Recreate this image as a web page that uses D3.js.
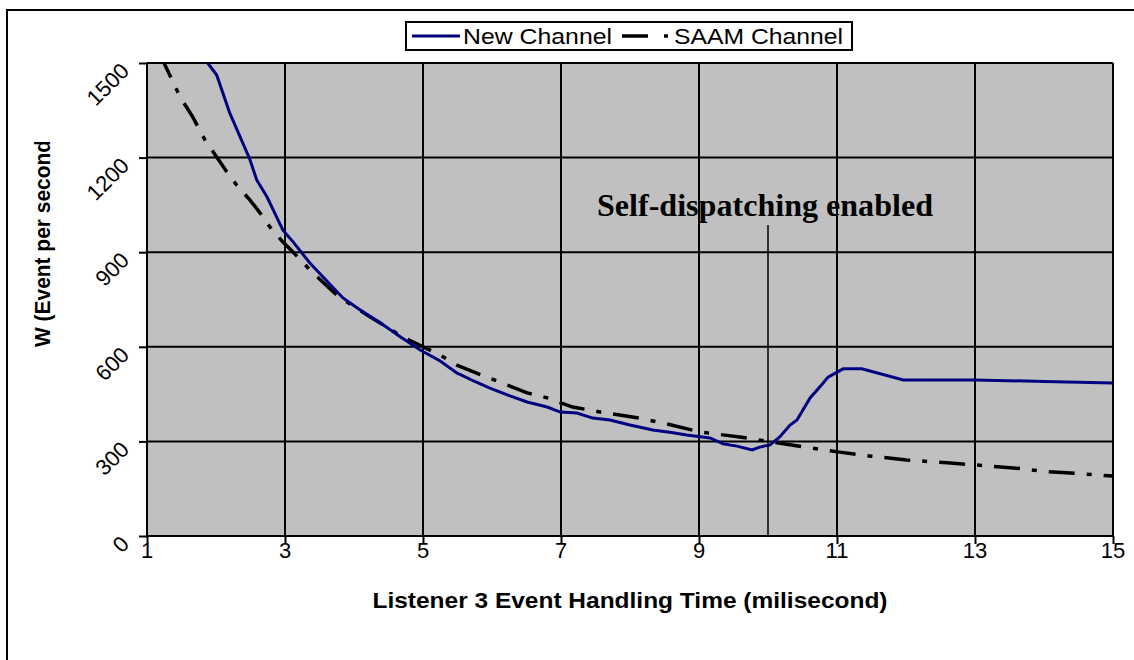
<!DOCTYPE html>
<html>
<head>
<meta charset="utf-8">
<script src="https://cdn.jsdelivr.net/npm/d3@7"></script>
<style>
  body { margin: 0; background: #fff; }
  svg { display: block; }
</style>
</head>
<body>
<div id="corpo"></div>
<script>
// values
var seriesNames = ["New Channel", "SAAM Channel"];
var xTicks = [1, 3, 5, 7, 9, 11, 13, 15];
var yTicks = [0, 300, 600, 900, 1200, 1500];

var newX = [1.8, 1.88, 2.01, 2.2, 2.49, 2.59, 2.74, 2.81, 2.97, 3.12, 3.36, 3.6, 3.84, 4.1, 4.38, 4.67, 4.96, 5.25, 5.49, 5.75, 5.97, 6.25, 6.51, 6.8, 6.99, 7.23, 7.46, 7.71, 8.0, 8.33, 8.6, 8.82, 9.16, 9.35, 9.55, 9.77, 9.88, 10.03, 10.17, 10.32, 10.42, 10.61, 10.8, 10.87, 11.09, 11.36, 11.96, 13.0, 14.0, 15];
var newY = [1580, 1500, 1462, 1341, 1195, 1129, 1075, 1043, 970, 932, 866, 810, 755, 715, 676, 632, 590, 555, 517, 490, 469, 445, 425, 409, 393, 390, 374, 368, 352, 336, 328, 320, 311, 292, 285, 273, 282, 289, 314, 352, 368, 438, 485, 504, 530, 530, 495, 495, 490, 485];

var saamX = [1.2, 1.26, 1.48, 1.66, 1.84, 2.0, 2.16, 2.3, 2.49, 2.64, 2.78, 2.97, 3.12, 3.36, 3.55, 3.75, 4.0, 4.23, 4.48, 4.71, 5.0, 5.25, 5.49, 5.85, 6.22, 6.51, 6.8, 7.17, 7.6, 8.14, 8.6, 9.01, 9.59, 10.07, 10.5, 11.04, 11.5, 12.01, 12.6, 13.2, 13.6, 14.0, 14.5, 15];
var saamY = [1530, 1494, 1392, 1330, 1256, 1205, 1154, 1113, 1066, 1024, 980, 932, 900, 844, 805, 764, 728, 695, 662, 631, 600, 574, 542, 510, 479, 454, 438, 409, 392, 374, 352, 330, 314, 298, 283, 266, 253, 241, 232, 222, 215, 205, 198, 190];

var markX = 10;
var markLabel = "Self-dispatching enabled";

var width = 1134, height = 660;
var pLeft = 147, pRight = 1113, pTop = 63, pBottom = 536;

var svg = d3.select("#corpo").append("svg")
    .attr("width", width)
    .attr("height", height);

// outer chart frame (only top/left edges fall inside the picture)
svg.append("rect")
    .attr("x", 7).attr("y", 10)
    .attr("width", 1140).attr("height", 700)
    .attr("fill", "#fff")
    .attr("stroke", "#000")
    .attr("stroke-width", 2);

var x = d3.scaleLinear().domain([1, 15]).range([pLeft, pRight]);
var y = d3.scaleLinear().domain([0, 1500]).range([pBottom, pTop]);

// plot area
svg.append("rect")
    .attr("x", pLeft).attr("y", pTop)
    .attr("width", pRight - pLeft).attr("height", pBottom - pTop)
    .attr("fill", "#c0c0c0");

svg.append("clipPath").attr("id", "plotclip")
  .append("rect")
    .attr("x", pLeft).attr("y", pTop)
    .attr("width", pRight - pLeft).attr("height", pBottom - pTop);

// grid
svg.append("g").selectAll("line")
    .data(xTicks)
    .enter().append("line")
    .attr("x1", function(d) { return x(d); })
    .attr("x2", function(d) { return x(d); })
    .attr("y1", pTop).attr("y2", pBottom)
    .attr("stroke", "#000").attr("stroke-width", 2);

svg.append("g").selectAll("line")
    .data(yTicks)
    .enter().append("line")
    .attr("x1", pLeft).attr("x2", pRight)
    .attr("y1", function(d) { return y(d); })
    .attr("y2", function(d) { return y(d); })
    .attr("stroke", "#000").attr("stroke-width", 2);

// axes
var xAxis = d3.axisBottom(x).tickValues(xTicks).tickSize(8).tickFormat("");
svg.append("g")
    .attr("transform", "translate(0," + pBottom + ")")
    .call(xAxis)
    .call(function(g) {
        g.selectAll("line, path").attr("stroke", "#000").attr("stroke-width", 2);
        g.select(".domain").attr("d", "M" + pLeft + ",0H" + pRight);
    });

var yAxis = d3.axisLeft(y).tickValues(yTicks).tickSize(8).tickFormat("");
svg.append("g")
    .attr("transform", "translate(" + pLeft + ",0)")
    .call(yAxis)
    .call(function(g) {
        g.selectAll("line, path").attr("stroke", "#000").attr("stroke-width", 2);
        g.select(".domain").attr("d", "M0," + pTop + "V" + pBottom);
    });

// tick labels
svg.append("g").selectAll("text")
    .data(xTicks)
    .enter().append("text")
    .attr("x", function(d) { return x(d); })
    .attr("y", 558)
    .attr("text-anchor", "middle")
    .style("font-family", "Arial, 'Liberation Sans', sans-serif")
    .style("font-size", "22px")
    .text(function(d) { return d; });

svg.append("g").selectAll("text")
    .data(yTicks)
    .enter().append("text")
    .attr("transform", function(d) { return "translate(125," + (y(d) + 4) + ") rotate(-45)"; })
    .attr("text-anchor", "end")
    .attr("dy", "0.35em")
    .style("font-family", "Arial, 'Liberation Sans', sans-serif")
    .style("font-size", "22px")
    .text(function(d) { return d; });

// axis titles
svg.append("text")
    .attr("x", 630).attr("y", 608)
    .attr("text-anchor", "middle")
    .attr("textLength", 515)
    .attr("lengthAdjust", "spacingAndGlyphs")
    .style("font-family", "Arial, 'Liberation Sans', sans-serif")
    .style("font-weight", "bold")
    .style("font-size", "22px")
    .text("Listener 3 Event Handling Time (milisecond)");

svg.append("clipPath").attr("id", "ytitleclip")
  .append("rect")
    .attr("x", 0).attr("y", 142)
    .attr("width", 100).attr("height", 300);

svg.append("g").attr("clip-path", "url(#ytitleclip)")
  .append("text")
    .attr("transform", "translate(50,347) rotate(-90)")
    .attr("textLength", 214)
    .attr("lengthAdjust", "spacingAndGlyphs")
    .style("font-family", "Arial, 'Liberation Sans', sans-serif")
    .style("font-weight", "bold")
    .style("font-size", "22px")
    .text("W (Event per second)");

// series
var line = d3.line()
    .x(function(d) { return x(d[0]); })
    .y(function(d) { return y(d[1]); });

var plot = svg.append("g").attr("clip-path", "url(#plotclip)");

plot.append("path")
    .datum(d3.zip(saamX, saamY))
    .attr("d", line)
    .attr("fill", "none")
    .attr("stroke", "#000")
    .attr("stroke-width", 3.5)
    .attr("stroke-dasharray", "26,12,5,12");

plot.append("path")
    .datum(d3.zip(newX, newY))
    .attr("d", line)
    .attr("fill", "none")
    .attr("stroke", "#000080")
    .attr("stroke-width", 3);

// annotation
svg.append("line")
    .attr("x1", x(markX)).attr("x2", x(markX))
    .attr("y1", 225).attr("y2", pBottom)
    .attr("stroke", "#000").attr("stroke-width", 1.5);

svg.append("text")
    .attr("x", 765).attr("y", 216)
    .attr("text-anchor", "middle")
    .attr("textLength", 336)
    .attr("lengthAdjust", "spacingAndGlyphs")
    .style("font-family", "'Times New Roman', 'Liberation Serif', serif")
    .style("font-weight", "bold")
    .style("font-size", "31px")
    .text(markLabel);

// legend
var leg = svg.append("g");
leg.append("rect")
    .attr("x", 406).attr("y", 22)
    .attr("width", 446).attr("height", 28)
    .attr("fill", "#fff")
    .attr("stroke", "#000")
    .attr("stroke-width", 2);

leg.append("line")
    .attr("x1", 412).attr("x2", 460)
    .attr("y1", 36).attr("y2", 36)
    .attr("stroke", "#000080").attr("stroke-width", 3);
leg.append("text")
    .attr("x", 463).attr("y", 44)
    .attr("textLength", 149)
    .attr("lengthAdjust", "spacingAndGlyphs")
    .style("font-family", "Arial, 'Liberation Sans', sans-serif")
    .style("font-size", "22px")
    .text(seriesNames[0]);

leg.append("line")
    .attr("x1", 622).attr("x2", 670)
    .attr("y1", 36).attr("y2", 36)
    .attr("stroke", "#000").attr("stroke-width", 3.5)
    .attr("stroke-dasharray", "26,16,4,20");
leg.append("text")
    .attr("x", 674).attr("y", 44)
    .attr("textLength", 169)
    .attr("lengthAdjust", "spacingAndGlyphs")
    .style("font-family", "Arial, 'Liberation Sans', sans-serif")
    .style("font-size", "22px")
    .text(seriesNames[1]);
</script>
</body>
</html>
